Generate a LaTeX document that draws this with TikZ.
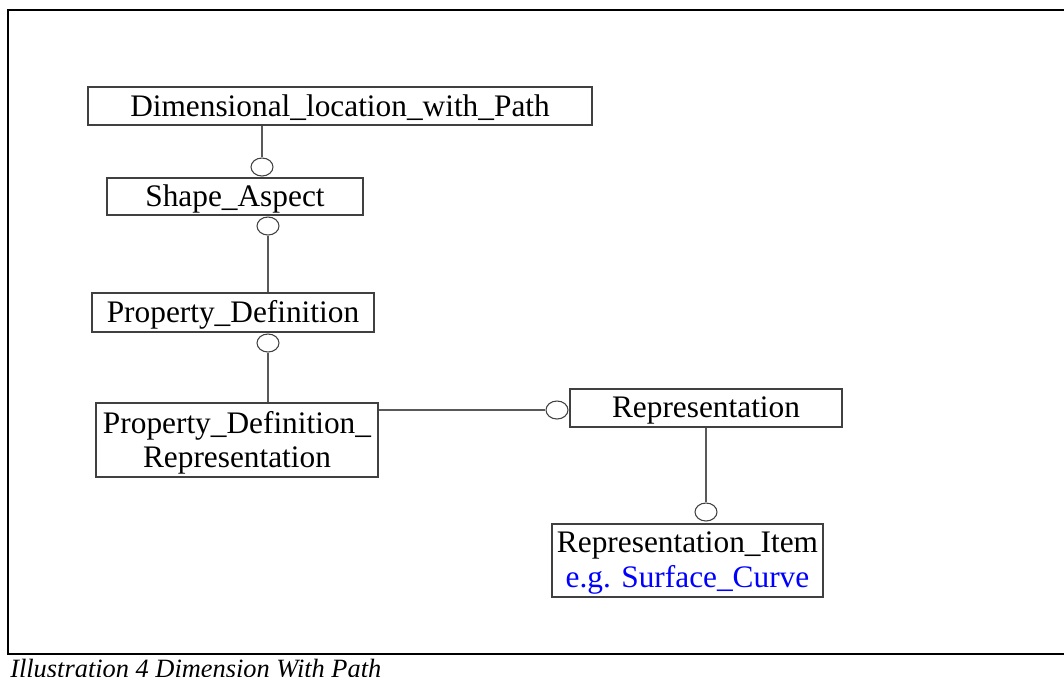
\documentclass[tikz,border=0pt]{standalone}
\usepackage{fontspec}
\setmainfont{Liberation Serif}
\usetikzlibrary{shapes.geometric}
\begin{document}
\begin{tikzpicture}[x=0.75pt,y=-0.75pt,
  box/.style={draw=black!75, line width=0.8pt, inner sep=0pt, align=center,
    text depth=1pt, font=\fontsize{23.5}{26}\selectfont},
  ring/.style={draw=black!75, line width=0.8pt, ellipse, inner sep=0pt,
    minimum width=16.5pt, minimum height=13.5pt},
  link/.style={draw=black!65, line width=0.8pt},
  frame/.style={draw=black, line width=1.4pt}]
\useasboundingbox (0,0) rectangle (1064,676);
\draw[frame] (1070,10) -- (8,10) -- (8,654) -- (1070,654);

\node[box, minimum width=378pt, minimum height=28.5pt] (dim) at (340,106) {Dimensional\_location\_with\_Path};
\node[box, minimum width=192pt, minimum height=27.75pt] (sa) at (235,196.5) {Shape\_Aspect};
\node[box, minimum width=211.5pt, minimum height=29.25pt] (pd) at (233,312.5) {Property\_Definition};
\node[box, minimum width=211.5pt, minimum height=55.5pt] (pdr) at (237,440) {Property\_Definition\_\\Representation};
\node[box, minimum width=204pt, minimum height=28.5pt] (rep) at (706,408) {Representation};
\node[box, minimum width=203.25pt, minimum height=54.75pt] (ri) at (687.5,560.5) {Representation\_Item\\\textcolor{blue}{e.g. Surface\_Curve}};

\node[ring] (c1) at (262,167) {};
\node[ring] (c2) at (268,226) {};
\node[ring] (c3) at (268,343) {};
\node[ring] (c4) at (557,410) {};
\node[ring] (c5) at (706,512) {};

\draw[link] (dim.south -| c1) -- (c1.north);
\draw[link] (c2.south) -- (pd.north -| c2);
\draw[link] (c3.south) -- (pdr.north -| c3);
\draw[link] (pdr.east |- c4) -- (c4.west);
\draw[link] (rep.south -| c5) -- (c5.north);

\node[anchor=base west, inner sep=0pt, font=\fontsize{19.8}{22}\selectfont\itshape] (cap) at (10,677) {Illustration 4 Dimension With Path};
\end{tikzpicture}
\end{document}
